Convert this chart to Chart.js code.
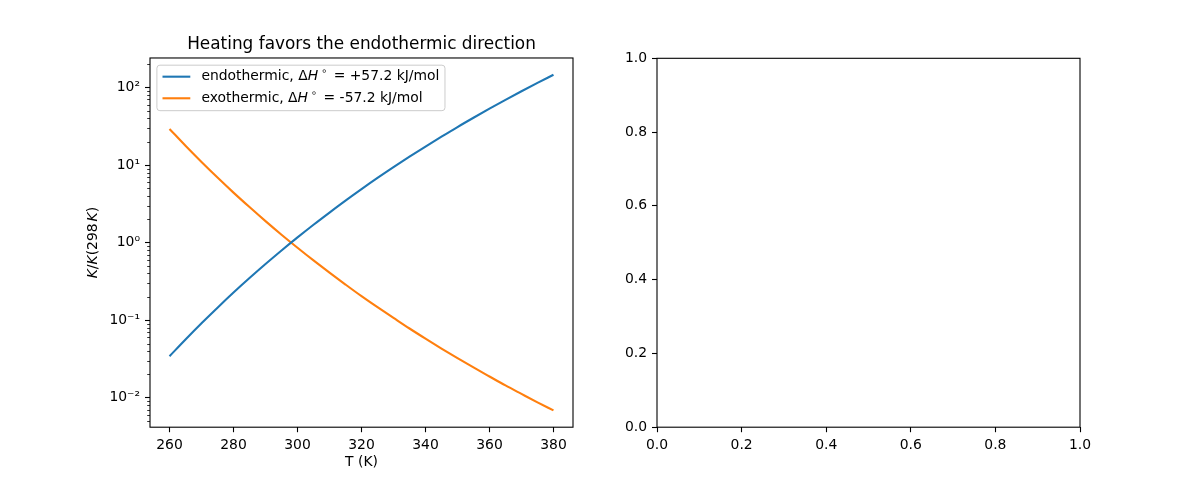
<!DOCTYPE html>
<html>
<head>
<meta charset="utf-8">
<script src="https://cdn.jsdelivr.net/npm/chart.js@4.4.1/dist/chart.umd.min.js"></script>
<style>
html, body { margin: 0; padding: 0; background: #fff; }
#wrap { position: relative; width: 1200px; height: 480px; }
.pane { position: absolute; top: 0; width: 600px; height: 480px; }
</style>
</head>
<body>
<div id="wrap">
  <div class="pane" style="left:0"><canvas id="left" width="600" height="480"></canvas></div>
  <div class="pane" style="left:600px"><canvas id="right" width="600" height="480"></canvas></div>
</div>
<script>
// temperatures (K) and K/K(298 K)
var temps = [260, 265, 270, 275, 280, 285, 290, 295, 300, 305, 310, 315, 320,
             325, 330, 335, 340, 345, 350, 355, 360, 365, 370, 375, 380];
var endoK = [0.0343, 0.0564, 0.0913, 0.145, 0.227, 0.349, 0.529, 0.791, 1.166, 1.699,
             2.44, 3.476, 4.89, 6.81, 9.38, 12.8, 17.3, 23.2, 30.9, 40.7,
             53.3, 69.3, 89.4, 114.5, 145.8];
var exoK = [29.2, 17.7, 10.95, 6.90, 4.41, 2.87, 1.89, 1.264, 0.858, 0.589,
            0.410, 0.288, 0.204, 0.147, 0.107, 0.0781, 0.0578, 0.0431, 0.0324, 0.0246,
            0.0188, 0.0144, 0.0112, 0.00873, 0.00686];

var xTicks = [260, 280, 300, 320, 340, 360, 380];
var yDecades = [0.01, 0.1, 1, 10, 100];
var yDecadeLabels = ['10\u207B\u00B2', '10\u207B\u00B9', '10\u2070', '10\u00B9', '10\u00B2'];
var emptyTicks = [0, 0.2, 0.4, 0.6, 0.8, 1.0];

var seriesNames = ['endothermic', 'exothermic'];
var seriesDH = ['+57.2', '-57.2'];
var seriesColors = ['#1f77b4', '#ff7f0e'];

var FONT = '"DejaVu Sans", sans-serif';
var FS = 13.9;

Chart.defaults.font.family = FONT;
Chart.defaults.font.size = FS;
Chart.defaults.color = '#000';

// draw a run of text pieces (some italic / superscript), left aligned, middle baseline
function richWidth(ctx, parts, size) {
  var w = 0;
  parts.forEach(function (p) {
    var s = p.sup ? size * 0.7 : size;
    ctx.font = (p.it ? 'italic ' : '') + s + 'px ' + FONT;
    w += ctx.measureText(p.t).width + (p.gap || 0);
  });
  return w;
}
function drawRich(ctx, parts, x, y, size) {
  ctx.textBaseline = 'middle';
  ctx.textAlign = 'left';
  parts.forEach(function (p) {
    var s = p.sup ? size * 0.7 : size;
    ctx.font = (p.it ? 'italic ' : '') + s + 'px ' + FONT;
    ctx.fillText(p.t, x, y + (p.sup ? -size * 0.38 : 0));
    x += ctx.measureText(p.t).width + (p.gap || 0);
  });
}

function legendParts(i) {
  return [
    {t: seriesNames[i] + ', '},
    {t: '\u0394'},
    {t: 'H', it: true, gap: 3},
    {t: '\u2218', sup: true, gap: 2},
    {t: ' = ' + seriesDH[i] + ' kJ/mol'}
  ];
}

var framePlugin = {
  id: 'frame',
  afterDatasetsDraw: function (chart) {
    var a = chart.chartArea, ctx = chart.ctx;
    ctx.save();
    ctx.strokeStyle = '#000';
    ctx.lineWidth = 1.1;
    ctx.strokeRect(a.left, a.top, a.right - a.left, a.bottom - a.top);
    ctx.restore();
  }
};

var minorTicksPlugin = {
  id: 'minorTicks',
  afterDraw: function (chart) {
    var y = chart.scales.y, ctx = chart.ctx, a = chart.chartArea;
    ctx.save();
    ctx.strokeStyle = '#000';
    ctx.lineWidth = 0.8;
    for (var e = -4; e <= 3; e++) {
      for (var k = 2; k <= 9; k++) {
        var v = k * Math.pow(10, e);
        if (v < y.min || v > y.max) continue;
        var py = Math.round(y.getPixelForValue(v)) + 0.5;
        ctx.beginPath();
        ctx.moveTo(a.left - 2.8, py);
        ctx.lineTo(a.left, py);
        ctx.stroke();
      }
    }
    ctx.restore();
  }
};

var textPlugin = {
  id: 'richText',
  afterDraw: function (chart) {
    var ctx = chart.ctx, a = chart.chartArea;
    ctx.save();
    ctx.fillStyle = '#000';
    // y axis label
    var lab = [
      {t: 'K', it: true}, {t: '/'}, {t: 'K', it: true}, {t: '(298', gap: 2},
      {t: 'K', it: true}, {t: ')'}
    ];
    var w = richWidth(ctx, lab, FS);
    ctx.translate(93, (a.top + a.bottom) / 2);
    ctx.rotate(-Math.PI / 2);
    drawRich(ctx, lab, -w / 2, 0, FS);
    ctx.setTransform(1, 0, 0, 1, 0, 0);

    // legend
    var pad = 5.6, handle = 27.8, hpad = 11.1, rowH = 21.6;
    var bx = a.left + 6.9, by = a.top + 7.2;
    var tw = 0;
    for (var i = 0; i < 2; i++) tw = Math.max(tw, richWidth(ctx, legendParts(i), FS));
    var bw = pad + handle + hpad + tw + pad;
    var bh = rowH * 2 + 2.3;
    ctx.beginPath();
    ctx.roundRect(bx, by, bw, bh, 3);
    ctx.fillStyle = 'rgba(255,255,255,0.8)';
    ctx.fill();
    ctx.strokeStyle = '#cccccc';
    ctx.lineWidth = 1;
    ctx.stroke();
    chart.data.datasets.forEach(function (ds, j) {
      var cy = by + 11.5 + j * rowH;
      ctx.strokeStyle = ds.borderColor;
      ctx.lineWidth = 2.1;
      ctx.beginPath();
      ctx.moveTo(bx + pad, cy);
      ctx.lineTo(bx + pad + handle, cy);
      ctx.stroke();
      ctx.fillStyle = '#000';
      drawRich(ctx, legendParts(j), bx + pad + handle + hpad, cy, FS);
    });
    ctx.restore();
  }
};

function xy(xs, ys) {
  return xs.map(function (t, i) { return {x: t, y: ys[i]}; });
}

var tickGrid = {drawOnChartArea: false, tickLength: 5, tickWidth: 1.1, tickColor: '#000'};

new Chart(document.getElementById('left'), {
  type: 'line',
  data: {
    datasets: [0, 1].map(function (i) {
      return {
        label: seriesNames[i],
        data: xy(temps, i === 0 ? endoK : exoK),
        borderColor: seriesColors[i],
        backgroundColor: seriesColors[i],
        borderWidth: 2.1,
        pointRadius: 0,
        fill: false,
        cubicInterpolationMode: 'monotone'
      };
    })
  },
  options: {
    responsive: false,
    animation: false,
    layout: {padding: {left: 0, right: 27, top: 0.5, bottom: 0}},
    plugins: {
      legend: {display: false},
      tooltip: {enabled: false},
      title: {
        display: true,
        fullSize: false,
        text: 'Heating favors the endothermic direction',
        font: {size: 16.9, weight: 'normal'},
        color: '#000',
        padding: {top: 33.5, bottom: 3.7}
      }
    },
    scales: {
      x: {
        type: 'linear',
        min: 253.9,
        max: 386.1,
        grid: tickGrid,
        border: {display: false},
        afterBuildTicks: function (s) { s.ticks = xTicks.map(function (v) { return {value: v}; }); },
        afterFit: function (s) { s.height = 52.8; },
        ticks: {padding: 4.5, maxRotation: 0, autoSkip: false,
                callback: function (v) { return String(v); }},
        title: {display: true, text: 'T (K)', font: {size: FS}, padding: {top: 0, bottom: 9}}
      },
      y: {
        type: 'logarithmic',
        min: 0.00417,
        max: 240,
        grid: tickGrid,
        border: {display: false},
        afterBuildTicks: function (s) { s.ticks = yDecades.map(function (v) { return {value: v, major: true}; }); },
        afterFit: function (s) { s.width = 150; },
        ticks: {padding: 5, autoSkip: false,
                callback: function (v, i) { return yDecadeLabels[i]; }}
      }
    }
  },
  plugins: [framePlugin, minorTicksPlugin, textPlugin]
});

new Chart(document.getElementById('right'), {
  type: 'line',
  data: {datasets: []},
  options: {
    responsive: false,
    animation: false,
    layout: {padding: {left: 0, right: 120, top: 58.3, bottom: 0}},
    plugins: {legend: {display: false}, tooltip: {enabled: false}},
    scales: {
      x: {
        type: 'linear', min: 0, max: 1,
        grid: tickGrid,
        border: {display: false},
        afterBuildTicks: function (s) { s.ticks = emptyTicks.map(function (v) { return {value: v}; }); },
        afterFit: function (s) { s.height = 52.8; },
        ticks: {padding: 4.5, maxRotation: 0, autoSkip: false,
                callback: function (v) { return v.toFixed(1); }}
      },
      y: {
        type: 'linear', min: 0, max: 1,
        grid: tickGrid,
        border: {display: false},
        afterBuildTicks: function (s) { s.ticks = emptyTicks.map(function (v) { return {value: v}; }); },
        afterFit: function (s) { s.width = 57; },
        ticks: {padding: 5, autoSkip: false,
                callback: function (v) { return v.toFixed(1); }}
      }
    }
  },
  plugins: [framePlugin]
});
</script>
</body>
</html>
